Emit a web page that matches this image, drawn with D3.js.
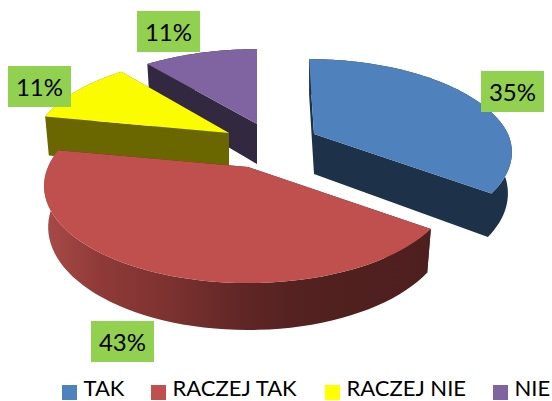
<!DOCTYPE html>
<html>
<head>
<meta charset="utf-8">
<script src="https://cdn.jsdelivr.net/npm/d3@7"></script>
<style>
html, body { margin: 0; padding: 0; background: #fff; overflow: hidden; }
text { font-family: Lato, "Open Sans", sans-serif; fill: #000; }
</style>
</head>
<body>
<div id="chart"></div>
<script>
var categories = ["TAK", "RACZEJ TAK", "RACZEJ NIE", "NIE"];
var values = [35, 43, 11, 11];
var percentLabels = ["35%", "43%", "11%", "11%"];

var topColors = ["#4f81bd", "#c0504d", "#fcfc00", "#8064a2"];
var sideColors = ["#1d3249", "#4f201f", "#6a6700", "#32283f"];

var width = 552, height = 401;

// where each exploded slice has its tip on screen
var sliceTips = [[314, 134], [248, 167], [229, 133], [257, 124]];
var lean = [-5, 0, 0, 0];
var scaleX = [0.98, 1.01, 0.98, 1];
var scaleY = [0.96, 1, 0.98, 0.96];
// label boxes, top left corner
var labelBoxes = [[481, 71], [91, 321], [8, 66], [137, 11]];
var legendX = [62, 151, 325, 493];

var rx = 198, ry = 93.3, persp = 0.196, depth = 40;

var svg = d3.select("#chart").append("svg")
    .attr("width", width)
    .attr("height", height)
    .style("display", "block");

var defs = svg.append("defs");
var wallGrad = defs.append("linearGradient")
    .attr("id", "redWall")
    .attr("gradientUnits", "userSpaceOnUse")
    .attr("x1", 43).attr("x2", 431)
    .attr("y1", 0).attr("y2", 0);
[[0, "#a84b48"], [0.15, "#8f3a38"], [0.32, "#7d3230"], [0.52, "#5f2625"], [0.68, "#522120"], [1, "#4d1f1e"]].forEach(function(s) {
    wallGrad.append("stop").attr("offset", s[0]).attr("stop-color", s[1]);
});

var pie = d3.pie().sort(null).value(function(d) { return d; });
var arcs = pie(values);

function project(i, a, bottom) {
    var s = 1 / (1 + persp * Math.cos(a));
    var x = rx * scaleX[i] * Math.sin(a) * s + lean[i] * Math.max(0, Math.cos(a));
    var y = -ry * scaleY[i] * Math.cos(a) * s;
    if (bottom) {
        return [sliceTips[i][0] + x * 0.98, sliceTips[i][1] + y * 1.06 + depth];
    }
    return [sliceTips[i][0] + x, sliceTips[i][1] + y];
}

function rimPoints(i, bottom) {
    var a0 = arcs[i].startAngle, a1 = arcs[i].endAngle;
    return d3.range(0, 61).map(function(k) {
        return project(i, a0 + (a1 - a0) * k / 60, bottom);
    });
}

var line = d3.line();

function drawSlice(i) {
    var g = svg.append("g");
    var tip = sliceTips[i];
    var tipB = [tip[0], tip[1] + depth];
    var top = rimPoints(i, false);
    var bot = rimPoints(i, true);

    var wall = line(top.concat(bot.slice().reverse())) + "Z";
    var cutStart = line([top[0], tip, tipB, bot[0]]) + "Z";
    var cutEnd = line([bot[60], top[60], tip, tipB]) + "Z";

    if (i == 1) {
        // red has the shaded wall, the cuts stay behind it
        g.append("path").attr("d", cutStart + cutEnd).attr("fill", sideColors[i]);
        g.append("path").attr("d", wall).attr("fill", "url(#redWall)");
    } else {
        // one path, no seam between wall and cut faces
        g.append("path").attr("d", wall + cutStart + cutEnd).attr("fill", sideColors[i]);
    }
    g.append("path")
        .attr("d", line([tip].concat(top)) + "Z")
        .attr("fill", topColors[i]);
}

// back to front
[3, 2, 0, 1].forEach(drawSlice);

// percent labels
var labels = svg.selectAll(".pct")
    .data(percentLabels)
    .enter().append("g")
    .attr("class", "pct")
    .attr("transform", function(d, i) { return "translate(" + labelBoxes[i][0] + "," + labelBoxes[i][1] + ")"; });
labels.append("rect")
    .attr("width", 63)
    .attr("height", 41)
    .attr("fill", "#92d050");
labels.append("text")
    .attr("x", 31.5)
    .attr("y", 30)
    .attr("text-anchor", "middle")
    .attr("font-size", 24)
    .text(function(d) { return d; });

// legend
var legend = svg.selectAll(".leg")
    .data(categories)
    .enter().append("g")
    .attr("class", "leg")
    .attr("transform", function(d, i) { return "translate(" + legendX[i] + ",385)"; });
legend.append("rect")
    .attr("width", 15)
    .attr("height", 15)
    .attr("fill", function(d, i) { return i == 2 ? "#ffff00" : topColors[i]; });
legend.append("text")
    .attr("x", 21.5)
    .attr("y", 11.3)
    .attr("font-size", 22)
    .text(function(d) { return d; });
</script>
</body>
</html>
